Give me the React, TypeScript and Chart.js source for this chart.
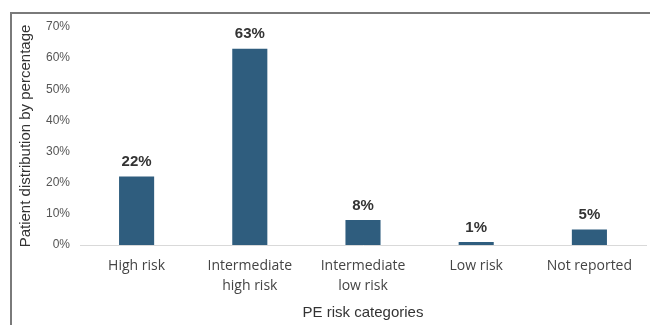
import React, { useEffect, useRef } from "react";
import { Chart, registerables } from "chart.js";

Chart.register(...registerables);

const categories: (string | string[])[] = [
  "High risk",
  ["Intermediate", "high risk"],
  ["Intermediate", "low risk"],
  "Low risk",
  "Not reported",
];
const percentValues: number[] = [22, 63, 8, 1, 5];
const yTickMax = 70;
const yTickStep = 10;
const yAxisTitle = "Patient distribution by percentage";
const xAxisTitle = "PE risk categories";

const BAR_COLOR = "#2F5D7E";

const framePlugin = {
  id: "frame",
  afterDraw(chart: any) {
    const ctx = chart.ctx;
    ctx.save();
    ctx.strokeStyle = "#7a7a7a";
    ctx.lineWidth = 2;
    ctx.beginPath();
    ctx.moveTo(11, chart.height);
    ctx.lineTo(11, 13);
    ctx.lineTo(chart.width, 13);
    ctx.stroke();
    ctx.restore();
  },
};

const valueLabelPlugin = {
  id: "valueLabels",
  afterDatasetsDraw(chart: any) {
    const ctx = chart.ctx;
    const meta = chart.getDatasetMeta(0);
    const data = chart.data.datasets[0].data as number[];
    ctx.save();
    ctx.font = "bold 15px 'Liberation Sans', Arial, sans-serif";
    ctx.fillStyle = "#333333";
    ctx.textAlign = "center";
    ctx.textBaseline = "bottom";
    meta.data.forEach((bar: any, i: number) => {
      ctx.fillText(`${data[i]}%`, bar.x, bar.y - 7);
    });
    ctx.restore();
  },
};

export default function App() {
  const canvasRef = useRef<HTMLCanvasElement | null>(null);

  useEffect(() => {
    if (!canvasRef.current) return;
    const chart = new Chart(canvasRef.current, {
      type: "bar",
      data: {
        labels: categories,
        datasets: [
          {
            data: percentValues,
            backgroundColor: BAR_COLOR,
            borderWidth: 0,
            barPercentage: 0.31,
            categoryPercentage: 1,
          },
        ],
      },
      options: {
        animation: false,
        responsive: true,
        maintainAspectRatio: false,
        layout: { padding: { top: 27, right: 4, left: 0, bottom: 0 } },
        plugins: {
          legend: { display: false },
          tooltip: { enabled: false },
        },
        scales: {
          x: {
            grid: { display: false, drawTicks: false },
            border: { display: true, color: "#d9d9d9", width: 1 },
            ticks: {
              padding: 11,
              color: "#444444",
              maxRotation: 0,
              autoSkip: false,
              font: { family: "'Open Sans', sans-serif", size: 14, lineHeight: 1.43 },
            },
            title: {
              display: true,
              text: xAxisTitle,
              color: "#333333",
              padding: { top: 8, bottom: 3 },
              font: { family: "'Liberation Sans', Arial, sans-serif", size: 15, lineHeight: 1.2 },
            },
            afterFit(scale: any) {
              scale.height = 80;
            },
          },
          y: {
            min: 0,
            max: yTickMax,
            grid: { display: false, drawTicks: false },
            border: { display: false },
            ticks: {
              stepSize: yTickStep,
              padding: 10,
              color: "#555555",
              font: { family: "'Liberation Sans', Arial, sans-serif", size: 12 },
              callback: (v: any) => `${v}%`,
            },
            title: {
              display: true,
              text: yAxisTitle,
              color: "#333333",
              padding: { top: 17, bottom: 0 },
              font: { family: "'Liberation Sans', Arial, sans-serif", size: 15, lineHeight: 1.2 },
            },
            afterFit(scale: any) {
              scale.width = 80;
            },
          },
        },
      },
      plugins: [valueLabelPlugin, framePlugin],
    });
    return () => chart.destroy();
  }, []);

  return (
    <div style={{ position: "fixed", left: 0, top: 0, width: 650, height: 325, background: "#ffffff" }}>
      <canvas ref={canvasRef} />
    </div>
  );
}
